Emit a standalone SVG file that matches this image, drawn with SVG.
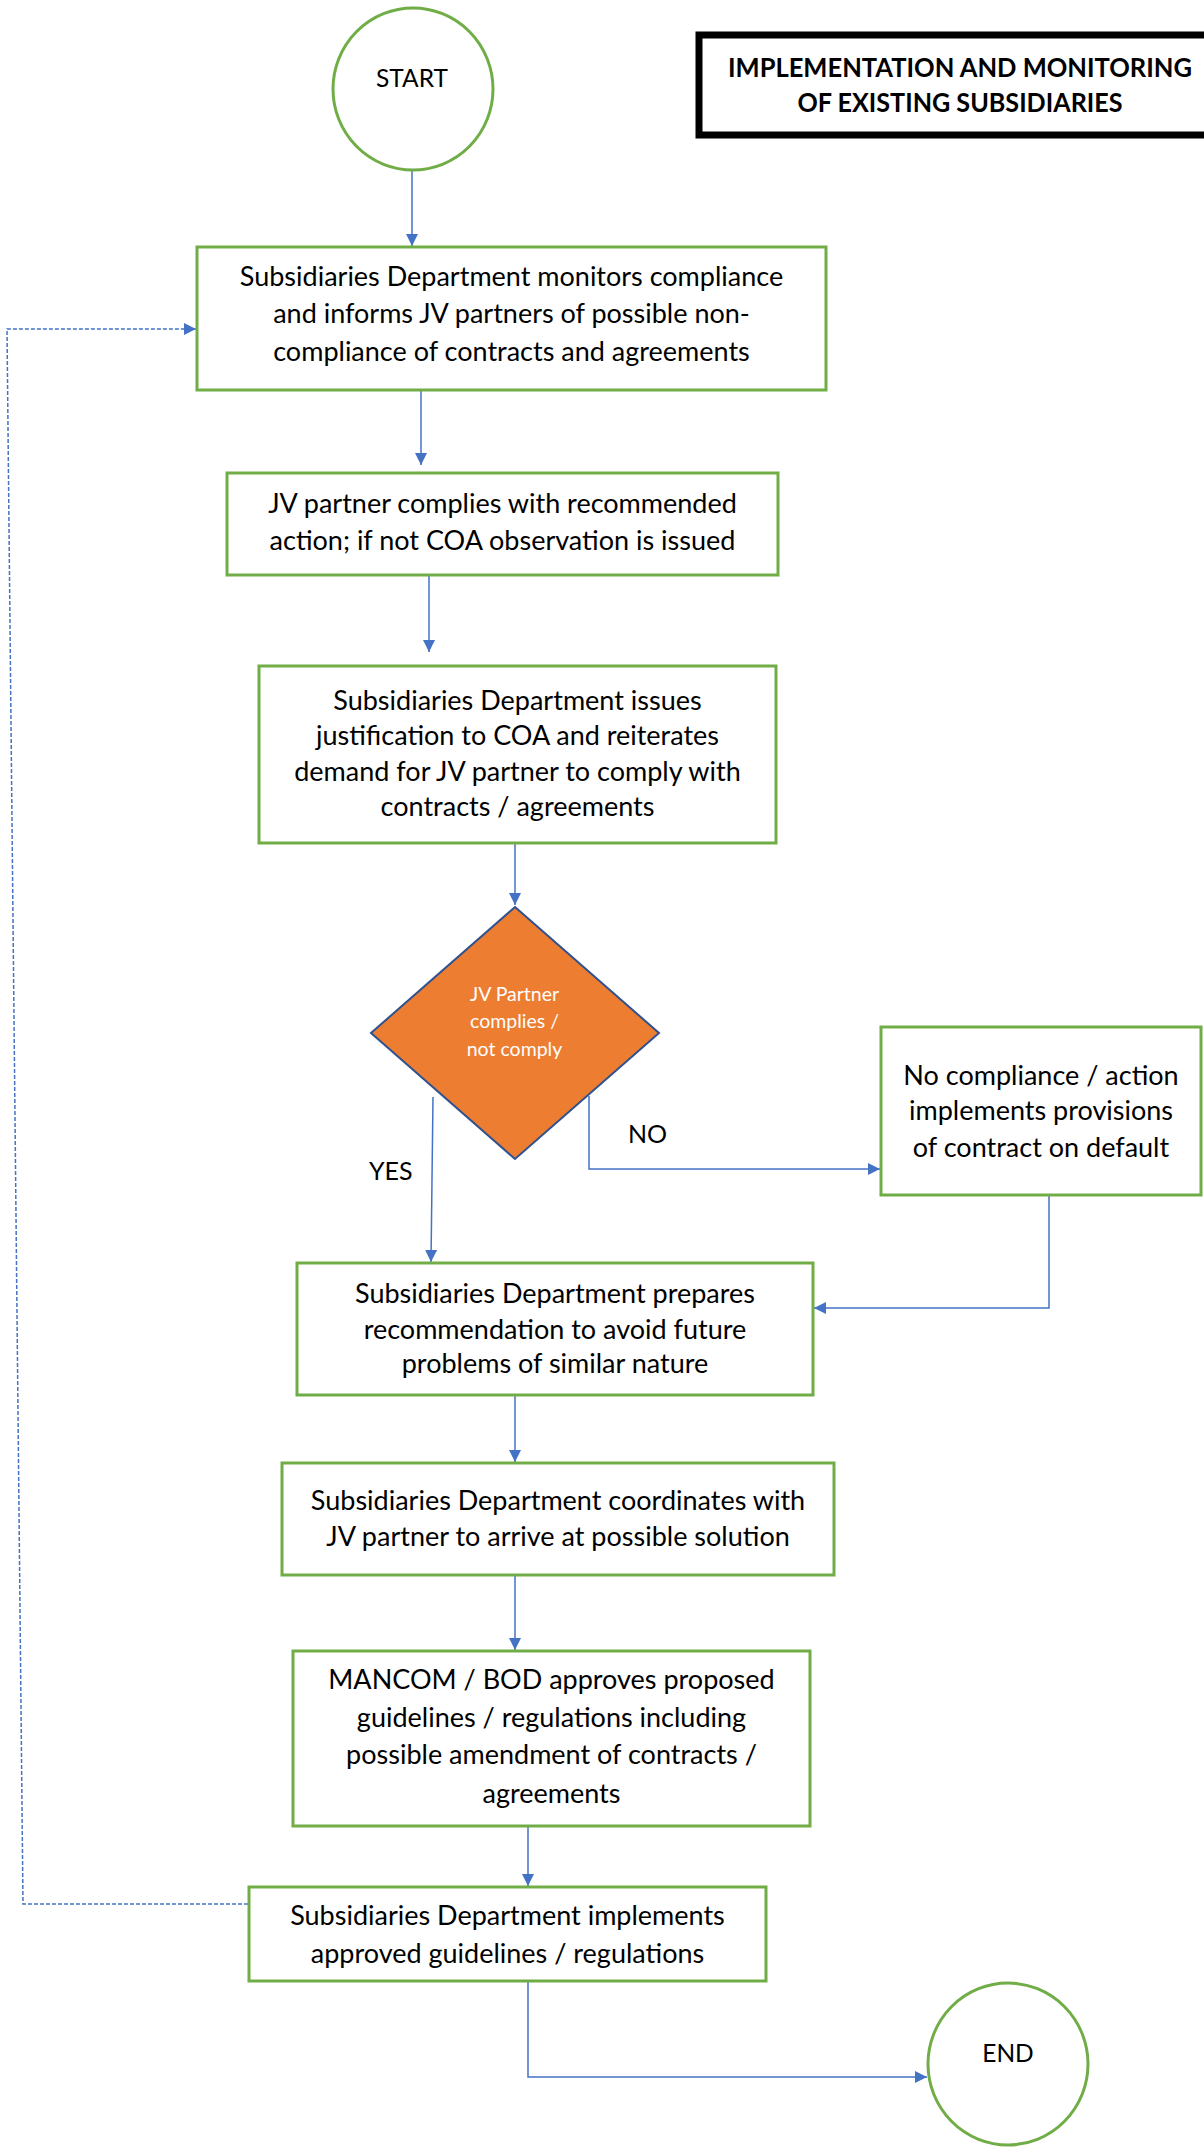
<svg xmlns="http://www.w3.org/2000/svg" width="1204" height="2148" viewBox="0 0 1204 2148">
<defs>
<marker id="arr" viewBox="0 0 12 12" refX="12" refY="6" markerWidth="12" markerHeight="12" markerUnits="userSpaceOnUse" orient="auto">
<path d="M0,0 L12,6 L0,12 Z" fill="#4472C4"/>
</marker>
<style>
.box{fill:#fff;stroke:#70AD47;stroke-width:3}
.term{fill:#fff;stroke:#70AD47;stroke-width:3}
.t{font-family:Lato,"Liberation Sans",sans-serif;font-size:27px;fill:#000;text-anchor:middle}
.tt{font-family:Lato,"Liberation Sans",sans-serif;font-size:24.5px;fill:#000;text-anchor:middle}
.dt{font-family:Lato,"Liberation Sans",sans-serif;font-size:19.5px;fill:#fff;text-anchor:middle}
.lbl{font-family:Lato,"Liberation Sans",sans-serif;font-size:25px;fill:#000}
.ttl{font-family:Lato,"Liberation Sans",sans-serif;font-size:26px;font-weight:bold;fill:#000;text-anchor:middle}
.c{fill:none;stroke:#4472C4;stroke-width:1.5}
.dash{fill:none;stroke:#4472C4;stroke-width:1.5;stroke-dasharray:4 2}
</style>
</defs>
<rect width="1204" height="2148" fill="#fff"/>

<g id="title">
<rect x="699" y="35" width="520" height="100" fill="#fff" stroke="#000" stroke-width="7"/>
<text class="ttl" x="960" y="77" textLength="464" lengthAdjust="spacingAndGlyphs">IMPLEMENTATION AND MONITORING</text>
<text class="ttl" x="960" y="112" textLength="325" lengthAdjust="spacingAndGlyphs">OF EXISTING SUBSIDIARIES</text>
</g>

<g id="connectors">
<path class="c" d="M412,170 L412,246" marker-end="url(#arr)"/>
<path class="c" d="M421,390 L421,465" marker-end="url(#arr)"/>
<path class="c" d="M429,575 L429,652" marker-end="url(#arr)"/>
<path class="c" d="M515,843 L515,905" marker-end="url(#arr)"/>
<path class="c" d="M433,1097 L431,1262" marker-end="url(#arr)"/>
<path class="c" d="M589,1096 L589,1169 L880,1169" marker-end="url(#arr)"/>
<path class="c" d="M1049,1195 L1049,1308 L814,1308" marker-end="url(#arr)"/>
<path class="c" d="M515,1395 L515,1462" marker-end="url(#arr)"/>
<path class="c" d="M515,1575 L515,1650" marker-end="url(#arr)"/>
<path class="c" d="M528,1827 L528,1886" marker-end="url(#arr)"/>
<path class="c" d="M528,1981 L528,2077 L927,2077" marker-end="url(#arr)"/>
<path class="dash" d="M248,1904 L23,1904 L7,329 L196,329" marker-end="url(#arr)"/>
</g>

<g id="start">
<ellipse class="term" cx="413" cy="89" rx="80" ry="81"/>
<text class="tt" x="412" y="87">START</text>
</g>

<g id="box1">
<rect class="box" x="197" y="247" width="629" height="143"/>
<text class="t" x="511.5" y="286">Subsidiaries Department monitors compliance</text>
<text class="t" x="511.5" y="323">and informs JV partners of possible non-</text>
<text class="t" x="511.5" y="361">compliance of contracts and agreements</text>
</g>

<g id="box2">
<rect class="box" x="227" y="473" width="551" height="102"/>
<text class="t" x="502.5" y="513">JV partner complies with recommended</text>
<text class="t" x="502.5" y="550">action; if not COA observation is issued</text>
</g>

<g id="box3">
<rect class="box" x="259" y="666" width="517" height="177"/>
<text class="t" x="517.5" y="710">Subsidiaries Department issues</text>
<text class="t" x="517.5" y="745">justification to COA and reiterates</text>
<text class="t" x="517.5" y="781">demand for JV partner to comply with</text>
<text class="t" x="517.5" y="816">contracts / agreements</text>
</g>

<g id="decision">
<polygon points="515,907 659,1033 515,1159 371,1033" fill="#ED7D31" stroke="#2F528F" stroke-width="2"/>
<text class="dt" x="514.5" y="1001">JV Partner</text>
<text class="dt" x="514.5" y="1028">complies /</text>
<text class="dt" x="514.5" y="1056">not comply</text>
</g>

<g id="labels">
<text class="lbl" x="369" y="1180">YES</text>
<text class="lbl" x="628" y="1143">NO</text>
</g>

<g id="box4">
<rect class="box" x="881" y="1027" width="320" height="168"/>
<text class="t" x="1041" y="1085">No compliance / action</text>
<text class="t" x="1041" y="1120">implements provisions</text>
<text class="t" x="1041" y="1157">of contract on default</text>
</g>

<g id="box5">
<rect class="box" x="297" y="1263" width="516" height="132"/>
<text class="t" x="555" y="1303">Subsidiaries Department prepares</text>
<text class="t" x="555" y="1339">recommendation to avoid future</text>
<text class="t" x="555" y="1373">problems of similar nature</text>
</g>

<g id="box6">
<rect class="box" x="282" y="1463" width="552" height="112"/>
<text class="t" x="558" y="1510">Subsidiaries Department coordinates with</text>
<text class="t" x="558" y="1546">JV partner to arrive at possible solution</text>
</g>

<g id="box7">
<rect class="box" x="293" y="1651" width="517" height="175"/>
<text class="t" x="551.5" y="1689">MANCOM / BOD approves proposed</text>
<text class="t" x="551.5" y="1727">guidelines / regulations including</text>
<text class="t" x="551.5" y="1764">possible amendment of contracts /</text>
<text class="t" x="551.5" y="1803">agreements</text>
</g>

<g id="box8">
<rect class="box" x="249" y="1887" width="517" height="94"/>
<text class="t" x="507.5" y="1925">Subsidiaries Department implements</text>
<text class="t" x="507.5" y="1963">approved guidelines / regulations</text>
</g>

<g id="end">
<ellipse class="term" cx="1008" cy="2064" rx="80" ry="81"/>
<text class="tt" x="1008" y="2062">END</text>
</g>
</svg>
